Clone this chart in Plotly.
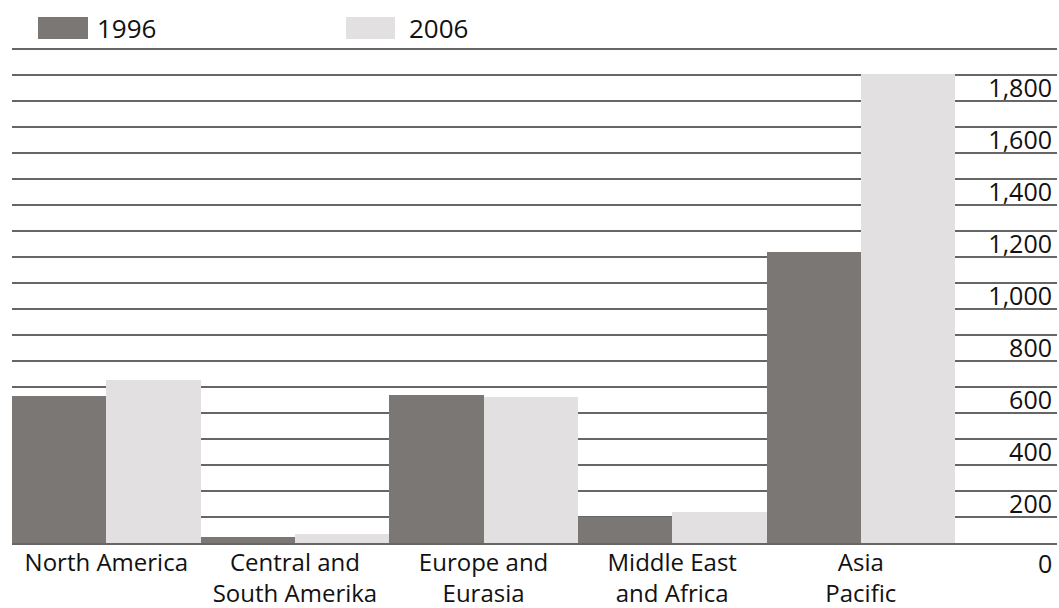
import plotly.graph_objects as go

regions = ["North America", "Central and<br>South Amerika", "Europe and<br>Eurasia",
           "Middle East<br>and Africa", "Asia<br>Pacific"]
series_names = ["1996", "2006"]
values_1996 = [565, 22, 570, 100, 1120]
values_2006 = [627, 35, 562, 118, 1805]

DARK = "#7b7775"
LIGHT = "#e2e0e1"
GRID = "#666666"
FONT = "Open Sans"

W, H = 1059, 608
L, R, T, B = 12, 2, 45, 65
pw = W - L - R
ph = H - T - B


def px(x):
    return (x - L) / pw


def py(y):
    return (H - B - y) / ph


fig = go.Figure()
fig.add_trace(go.Bar(x=regions, y=values_1996, name=series_names[0], marker_color=DARK,
                     marker_line_width=0))
fig.add_trace(go.Bar(x=regions, y=values_2006, name=series_names[1], marker_color=LIGHT,
                     marker_line_width=0))

# legend drawn as swatches + text
for name, color, sx0, sx1, tx in [(series_names[0], DARK, 38, 88, 95),
                                  (series_names[1], LIGHT, 346, 395, 407)]:
    fig.add_shape(type="rect", xref="paper", yref="paper", x0=px(sx0), x1=px(sx1),
                  y0=py(39), y1=py(17), fillcolor=color, line_width=0)
    fig.add_annotation(xref="paper", yref="paper", x=px(tx), y=py(28), text=name,
                       showarrow=False, xanchor="left", yanchor="middle",
                       font=dict(family=FONT, size=26, color="#111111"))

# the "0" label sits below the baseline (inside labels outside the plot are hidden)
fig.add_annotation(xref="paper", yref="y", x=1, y=0, text="0", showarrow=False,
                   xanchor="right", yanchor="top", xshift=-3, yshift=-1,
                   font=dict(family=FONT, size=25, color="#111111"))

fig.update_layout(
    width=W, height=H,
    margin=dict(l=L, r=R, t=T, b=B),
    paper_bgcolor="white", plot_bgcolor="white",
    barmode="group", bargap=0, bargroupgap=0,
    showlegend=False,
    font=dict(family=FONT, size=24, color="#111111"),
)
fig.update_xaxes(
    type="category",
    range=[-0.5, 5.04],
    automargin=False,
    showline=True, linecolor=GRID, linewidth=2,
    showgrid=False, ticks="",
    ticklabelstandoff=-3,
    tickfont=dict(family=FONT, size=24, color="#111111"),
)
fig.update_yaxes(
    side="right",
    range=[0, 1915],
    automargin=False,
    tickmode="linear", tick0=0, dtick=200,
    tickformat=",",
    ticklabelposition="inside",
    ticks="",
    ticklabelshift=13,
    ticklabelstandoff=2,
    showgrid=True, gridcolor=GRID, gridwidth=2,
    minor=dict(dtick=100, tick0=0, showgrid=True, gridcolor=GRID, gridwidth=2),
    zeroline=False,
    tickfont=dict(family=FONT, size=25, color="#111111"),
)

fig.write_html("out.html")
